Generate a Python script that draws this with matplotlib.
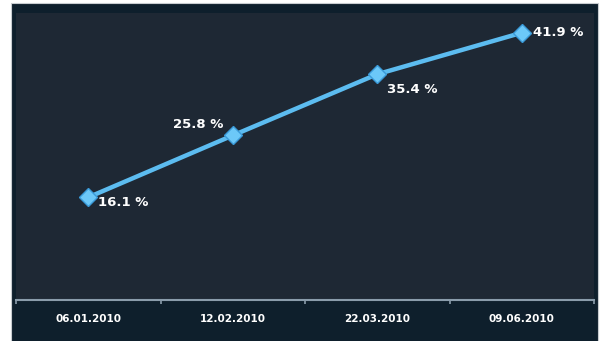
import matplotlib.pyplot as plt
from matplotlib.patches import Rectangle

dates = ["06.01.2010", "12.02.2010", "22.03.2010", "09.06.2010"]
values = [16.1, 25.8, 35.4, 41.9]
labels = ["16.1 %", "25.8 %", "35.4 %", "41.9 %"]
# label offsets in points (dx, dy) and alignment
offsets = [(7, -4, "left"), (-7, 8, "right"), (7, -11, "left"), (8, 0, "left")]

W, H = 602, 341
fig = plt.figure(figsize=(W / 100, H / 100), dpi=100)
fig.patch.set_facecolor("white")

# outer dark frame
bg = fig.add_axes([0, 0, 1, 1], zorder=-1)
bg.set_xlim(0, W)
bg.set_ylim(H, 0)
bg.axis("off")
bg.add_patch(Rectangle((11, 3), 598 - 11, H, facecolor="#0e1f2c",
                       edgecolor="#c8ccd0", lw=0.8))

ax = fig.add_axes([16 / W, (H - 300) / H, (594 - 16) / W, (300 - 13) / H])
ax.set_facecolor("#1e2834")

x = list(range(len(dates)))
ax.plot(x, values, color="#5cbcf0", lw=3.2, marker="D", ms=9,
        mfc="#6cc8f8", mec="#3a9ad8", mew=1, zorder=3)

for xi, v, lab, (dx, dy, ha) in zip(x, values, labels, offsets):
    ax.annotate(lab, (xi, v), xytext=(dx, dy), textcoords="offset points",
                ha=ha, va="center", color="white", fontsize=9.5,
                fontweight="bold")

ax.set_xlim(-0.5, len(dates) - 0.5)
ax.set_ylim(0, 45)
ax.set_xticks(x)
ax.set_xticklabels(dates, color="white", fontsize=7.5, fontweight="bold")
ax.tick_params(axis="x", which="major", length=0, pad=10)
ax.set_xticks([i - 0.5 for i in range(len(dates) + 1)], minor=True)
ax.tick_params(axis="x", which="minor", length=3, width=1.2, color="#8a9cab",
               direction="out")
ax.set_yticks([])
for s in ["top", "left", "right"]:
    ax.spines[s].set_visible(False)
ax.spines["bottom"].set_color("#8a9cab")
ax.spines["bottom"].set_linewidth(1.5)

fig.savefig("out.png", dpi=100, facecolor=fig.get_facecolor())
